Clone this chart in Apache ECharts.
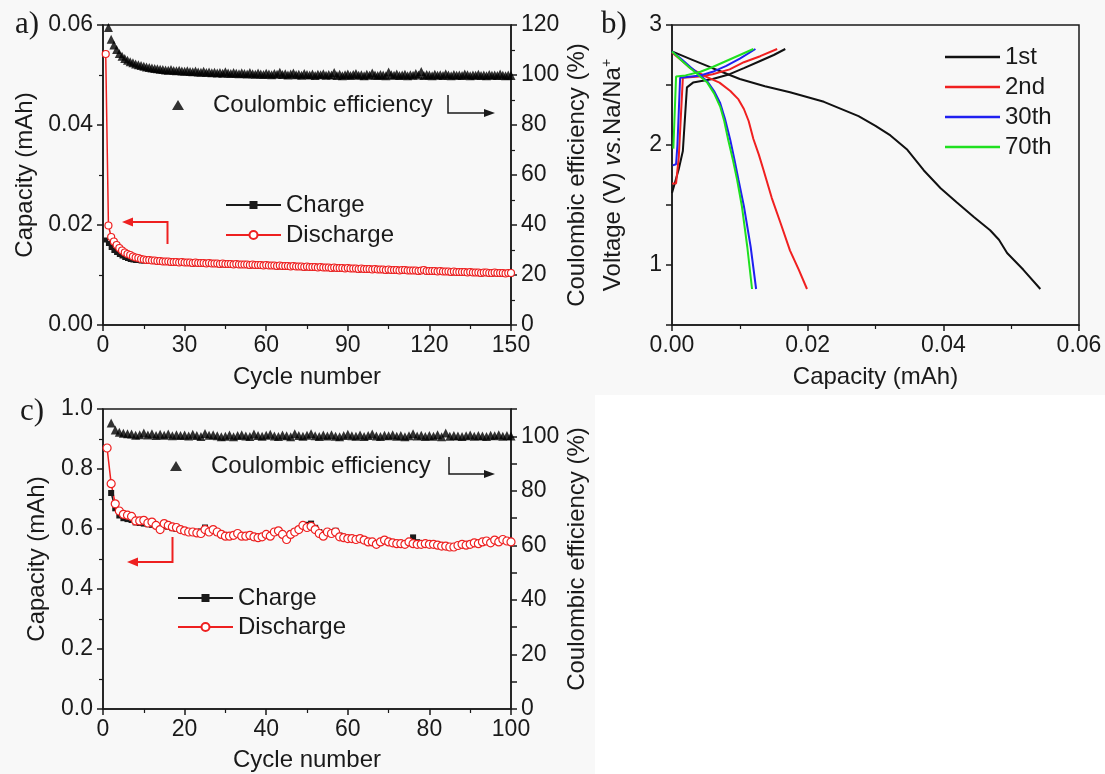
<!DOCTYPE html>
<html>
<head>
<meta charset="utf-8">
<script src="https://cdn.jsdelivr.net/npm/echarts/dist/echarts.min.js"></script>
<style>
html, body { margin: 0; padding: 0; background: #fff; }
#chart { width: 1105px; height: 774px; }
</style>
</head>
<body>
<div id="chart"></div>
<script>
// a) 150 cycles, capacity in mAh, CE in %
const chargeA = [
  0.0170, 0.0163, 0.0155, 0.0149, 0.0145, 0.0141, 0.0138, 0.0135, 0.0133, 0.0131,
  0.0130, 0.0129, 0.0129, 0.0128, 0.0128, 0.0128, 0.0127, 0.0127, 0.0127, 0.0126,
  0.0126, 0.0125, 0.0125, 0.0125, 0.0124, 0.0124, 0.0124, 0.0123, 0.0124, 0.0123,
  0.0123, 0.0123, 0.0122, 0.0123, 0.0122, 0.0122, 0.0122, 0.0121, 0.0122, 0.0121,
  0.0121, 0.0121, 0.0120, 0.0121, 0.0120, 0.0120, 0.0120, 0.0119, 0.0120, 0.0119,
  0.0119, 0.0119, 0.0119, 0.0118, 0.0119, 0.0118, 0.0118, 0.0118, 0.0117, 0.0118,
  0.0117, 0.0117, 0.0117, 0.0116, 0.0117, 0.0116, 0.0116, 0.0116, 0.0115, 0.0116,
  0.0115, 0.0115, 0.0115, 0.0114, 0.0115, 0.0114, 0.0114, 0.0114, 0.0113, 0.0114,
  0.0113, 0.0113, 0.0113, 0.0112, 0.0113, 0.0112, 0.0112, 0.0112, 0.0111, 0.0112,
  0.0111, 0.0111, 0.0111, 0.0110, 0.0111, 0.0110, 0.0110, 0.0110, 0.0109, 0.0110,
  0.0109, 0.0109, 0.0109, 0.0108, 0.0109, 0.0108, 0.0108, 0.0108, 0.0107, 0.0108,
  0.0108, 0.0107, 0.0107, 0.0107, 0.0107, 0.0106, 0.0107, 0.0108, 0.0106, 0.0106,
  0.0106, 0.0106, 0.0105, 0.0106, 0.0105, 0.0105, 0.0105, 0.0104, 0.0105, 0.0104,
  0.0104, 0.0104, 0.0104, 0.0103, 0.0104, 0.0103, 0.0103, 0.0103, 0.0102, 0.0103,
  0.0103, 0.0102, 0.0102, 0.0103, 0.0102, 0.0102, 0.0102, 0.0101, 0.0102, 0.0102
]
const dischargeA = [
  0.0542, 0.0199, 0.0176, 0.0167, 0.0160, 0.0154, 0.0149, 0.0145, 0.0142, 0.0140,
  0.0137, 0.0135, 0.0134, 0.0132, 0.0131, 0.0130, 0.0130, 0.0129, 0.0129, 0.0128,
  0.0128, 0.0127, 0.0127, 0.0127, 0.0126, 0.0126, 0.0126, 0.0125, 0.0126, 0.0125,
  0.0125, 0.0125, 0.0124, 0.0125, 0.0124, 0.0124, 0.0124, 0.0123, 0.0124, 0.0123,
  0.0123, 0.0123, 0.0122, 0.0123, 0.0122, 0.0122, 0.0122, 0.0121, 0.0122, 0.0121,
  0.0121, 0.0121, 0.0121, 0.0120, 0.0121, 0.0120, 0.0120, 0.0120, 0.0119, 0.0120,
  0.0119, 0.0119, 0.0119, 0.0118, 0.0119, 0.0118, 0.0118, 0.0118, 0.0117, 0.0118,
  0.0117, 0.0117, 0.0117, 0.0116, 0.0117, 0.0116, 0.0116, 0.0116, 0.0115, 0.0116,
  0.0115, 0.0115, 0.0115, 0.0114, 0.0115, 0.0114, 0.0114, 0.0114, 0.0113, 0.0114,
  0.0113, 0.0113, 0.0113, 0.0112, 0.0113, 0.0112, 0.0112, 0.0112, 0.0111, 0.0112,
  0.0111, 0.0111, 0.0111, 0.0110, 0.0111, 0.0110, 0.0110, 0.0110, 0.0109, 0.0110,
  0.0110, 0.0109, 0.0109, 0.0109, 0.0109, 0.0108, 0.0109, 0.0110, 0.0108, 0.0108,
  0.0108, 0.0108, 0.0107, 0.0108, 0.0107, 0.0107, 0.0107, 0.0106, 0.0107, 0.0106,
  0.0106, 0.0106, 0.0106, 0.0105, 0.0106, 0.0105, 0.0105, 0.0105, 0.0104, 0.0105,
  0.0105, 0.0104, 0.0104, 0.0105, 0.0104, 0.0104, 0.0104, 0.0103, 0.0104, 0.0104
]
// CE starts at cycle 2
const ceA = [
  119.0, 114.3, 112.0, 110.2, 108.6, 107.5, 106.6, 105.9, 105.3,
  104.9, 104.4, 104.1, 103.8, 103.5, 103.2, 103.0, 102.8, 102.6, 102.5,
  102.3, 102.2, 102.0, 101.9, 102.2, 101.8, 101.7, 101.9, 101.6, 101.5,
  101.7, 101.4, 101.3, 101.6, 101.2, 101.1, 101.5, 101.0, 101.2, 100.9,
  101.1, 100.8, 101.0, 100.7, 101.3, 100.8, 100.6, 101.0, 100.7, 100.5,
  100.9, 100.6, 100.4, 101.0, 100.5, 100.3, 100.8, 100.4, 100.2, 100.7,
  100.4, 100.1, 100.6, 100.3, 101.1, 100.2, 100.5, 100.0, 100.4, 100.8,
  100.1, 100.3, 99.9, 100.6, 100.2, 100.0, 100.4, 99.8, 100.3, 100.1,
  100.5, 99.9, 100.2, 100.0, 101.0, 99.8, 100.3, 99.7, 100.1, 100.4,
  99.8, 100.2, 100.6, 99.9, 100.1, 99.7, 100.3, 99.9, 100.8, 100.0,
  99.8, 100.2, 100.0, 99.7, 101.2, 100.1, 99.9, 100.4, 99.8, 100.0,
  100.3, 99.7, 100.1, 99.9, 100.6, 100.0, 101.4, 99.8, 100.2, 100.0,
  99.7, 100.3, 99.9, 100.1, 99.8, 100.5, 100.0, 99.7, 100.2, 99.9,
  100.0, 99.8, 100.4, 100.1, 99.7, 100.0, 99.9, 100.3, 99.8, 100.0,
  99.7, 100.2, 99.9, 100.0, 99.8, 100.4, 99.9, 99.7, 100.0, 99.8
]

// b) voltage profiles [capacity mAh, voltage V]
const charge1st = [[0, 1.60], [0.0004, 1.68], [0.0010, 1.80], [0.0016, 1.95], [0.0022, 2.48], [0.0031, 2.52], [0.0060, 2.55], [0.0085, 2.59], [0.0106, 2.64], [0.0130, 2.70], [0.0150, 2.75], [0.0167, 2.80]]
const discharge1st = [[0, 2.78], [0.0030, 2.71], [0.0060, 2.64], [0.0100, 2.55], [0.0137, 2.49], [0.0174, 2.44], [0.0224, 2.36], [0.0275, 2.24], [0.0300, 2.16], [0.0322, 2.08], [0.0347, 1.96], [0.0371, 1.79], [0.0396, 1.64], [0.0420, 1.52], [0.0445, 1.40], [0.0469, 1.29], [0.0482, 1.21], [0.0494, 1.10], [0.0518, 0.96], [0.0543, 0.80]]
const charge2nd = [[0, 1.68], [0.0006, 1.68], [0.0010, 1.90], [0.0016, 2.56], [0.0040, 2.57], [0.0060, 2.59], [0.0085, 2.63], [0.0106, 2.69], [0.0130, 2.74], [0.0155, 2.80]]
const discharge2nd = [[0, 2.77], [0.0015, 2.70], [0.0027, 2.64], [0.0050, 2.57], [0.0070, 2.52], [0.0086, 2.45], [0.0098, 2.38], [0.0106, 2.30], [0.0113, 2.20], [0.0120, 2.05], [0.0128, 1.92], [0.0135, 1.79], [0.0147, 1.56], [0.0160, 1.35], [0.0174, 1.12], [0.0187, 0.96], [0.0199, 0.80]]
const charge30th = [[0.0001, 1.83], [0.0006, 1.84], [0.0008, 2.00], [0.0012, 2.56], [0.0042, 2.58], [0.0060, 2.61], [0.0080, 2.66], [0.0100, 2.72], [0.0123, 2.80]]
const discharge30th = [[0, 2.78], [0.0015, 2.71], [0.0027, 2.65], [0.0040, 2.59], [0.0052, 2.53], [0.0062, 2.45], [0.0071, 2.35], [0.0078, 2.22], [0.0086, 2.04], [0.0092, 1.88], [0.0098, 1.71], [0.0106, 1.49], [0.0116, 1.15], [0.0124, 0.80]]
const charge70th = [[0.0002, 1.97], [0.0006, 2.57], [0.0020, 2.58], [0.0042, 2.61], [0.0060, 2.65], [0.0080, 2.70], [0.0100, 2.75], [0.0120, 2.80]]
const discharge70th = [[0, 2.78], [0.0015, 2.70], [0.0027, 2.64], [0.0040, 2.58], [0.0052, 2.52], [0.0062, 2.43], [0.0071, 2.32], [0.0077, 2.20], [0.0083, 2.04], [0.0090, 1.87], [0.0096, 1.71], [0.0103, 1.49], [0.0111, 1.15], [0.0118, 0.80]]

// c) 100 cycles, charge and CE start at cycle 2
const dischargeC = [
  0.870, 0.751, 0.684, 0.660, 0.649, 0.646, 0.642, 0.627, 0.627, 0.629,
  0.620, 0.623, 0.612, 0.598, 0.618, 0.612, 0.607, 0.605, 0.598, 0.594,
  0.590, 0.590, 0.587, 0.585, 0.598, 0.590, 0.598, 0.590, 0.582, 0.576,
  0.576, 0.579, 0.585, 0.576, 0.576, 0.579, 0.574, 0.571, 0.574, 0.582,
  0.576, 0.590, 0.594, 0.582, 0.565, 0.582, 0.590, 0.598, 0.612, 0.605,
  0.609, 0.598, 0.585, 0.576, 0.590, 0.585, 0.590, 0.574, 0.571, 0.568,
  0.568, 0.565, 0.568, 0.563, 0.557, 0.557, 0.549, 0.557, 0.563, 0.557,
  0.554, 0.551, 0.551, 0.549, 0.557, 0.551, 0.549, 0.549, 0.551, 0.549,
  0.549, 0.546, 0.543, 0.543, 0.540, 0.540, 0.545, 0.549, 0.546, 0.549,
  0.554, 0.551, 0.557, 0.560, 0.554, 0.563, 0.557, 0.565, 0.560, 0.557
]
const chargeC = [
  0.720, 0.669, 0.645, 0.636, 0.633, 0.630, 0.622, 0.620, 0.618,
  0.616, 0.614, 0.610, 0.605, 0.610, 0.607, 0.603, 0.600, 0.597, 0.594,
  0.591, 0.590, 0.588, 0.592, 0.605, 0.592, 0.594, 0.588, 0.584, 0.580,
  0.578, 0.580, 0.582, 0.578, 0.577, 0.576, 0.572, 0.574, 0.576, 0.580,
  0.580, 0.588, 0.590, 0.582, 0.572, 0.584, 0.592, 0.600, 0.610, 0.614,
  0.618, 0.604, 0.590, 0.582, 0.588, 0.590, 0.594, 0.578, 0.572, 0.570,
  0.568, 0.566, 0.566, 0.563, 0.560, 0.557, 0.553, 0.556, 0.560, 0.558,
  0.555, 0.553, 0.552, 0.551, 0.555, 0.572, 0.556, 0.552, 0.551, 0.550,
  0.549, 0.548, 0.545, 0.540, 0.538, 0.540, 0.543, 0.547, 0.548, 0.550,
  0.553, 0.553, 0.556, 0.560, 0.556, 0.562, 0.558, 0.563, 0.560, 0.557
]
const ceC = [
  104.9, 102.3, 101.5, 101.1, 100.9, 100.8, 100.4, 100.6, 101.2,
  100.5, 100.9, 100.3, 100.7, 100.4, 100.8, 100.2, 100.6, 100.3, 100.5,
  100.1, 100.7, 100.3, 99.9, 101.0, 100.4, 100.6, 100.2, 99.8, 100.0,
  100.5, 99.8, 100.3, 100.6, 100.1, 99.9, 100.8, 100.3, 100.0, 100.4,
  100.7, 100.1, 99.9, 100.5, 100.2, 99.8, 100.9, 100.3, 100.0, 100.4,
  100.9, 100.2, 99.9, 100.5, 100.1, 100.6, 100.0, 99.8, 100.3, 100.7,
  100.2, 100.0, 100.5, 99.9, 100.3, 100.8, 100.1, 99.9, 100.4, 100.2,
  100.6, 100.0, 100.3, 99.8, 100.2, 100.9, 100.1, 100.4, 99.9, 100.3,
  100.0, 100.6, 99.8, 101.2, 100.0, 100.3, 100.1, 99.9, 100.2, 100.5,
  100.0, 100.3, 100.1, 99.9, 100.4, 100.2, 100.6, 100.0, 100.3, 100.1
]

const font = 'Liberation Sans'
const ink = '#1a1a1a'
const red = '#ee2020'

function withCycles(values, first) {
  return values.map((v, i) => [first + i, v])
}

function axisStyle(extra) {
  return Object.assign({
    type: 'value',
    splitLine: { show: false },
    axisLine: { show: true, onZero: false, lineStyle: { color: ink, width: 1.5 } },
    axisTick: { show: true, inside: false, length: 6, lineStyle: { color: ink, width: 1.5 } },
    minorTick: { show: true, splitNumber: 2, length: 4, lineStyle: { color: ink, width: 1.2 } },
    axisLabel: { color: ink, fontSize: 23, fontFamily: font, margin: 9 },
    nameLocation: 'middle',
    nameTextStyle: { color: ink, fontSize: 24, fontFamily: font }
  }, extra)
}

function legendStyle(extra) {
  return Object.assign({
    orient: 'vertical',
    itemWidth: 55,
    itemHeight: 10,
    itemGap: 6,
    padding: 0,
    textStyle: { color: ink, fontSize: 24, fontFamily: font }
  }, extra)
}

const chartEl = document.getElementById('chart')
const chart = echarts.init(chartEl, null, { renderer: 'canvas' })

const gridBox = { show: true, borderColor: ink, borderWidth: 1.5, backgroundColor: 'transparent' }

const profileSeries = []
;[
  ['1st', '#111111', charge1st, discharge1st],
  ['2nd', '#f02020', charge2nd, discharge2nd],
  ['30th', '#2020f0', charge30th, discharge30th],
  ['70th', '#20e020', charge70th, discharge70th]
].forEach(([name, color, ch, dis]) => {
  ;[ch, dis].forEach(d => {
    profileSeries.push({
      name: name,
      type: 'line',
      xAxisIndex: 1,
      yAxisIndex: 2,
      symbol: 'none',
      lineStyle: { color: color, width: 2 },
      itemStyle: { color: color },
      data: d
    })
  })
})

// triangle legend: small icon, text pushed to the right
const ceLegendText = { color: ink, fontSize: 24, fontFamily: font, padding: [0, 0, 0, 24] }

const option = {
  animation: false,
  backgroundColor: '#ffffff',
  grid: [
    Object.assign({ left: 103, top: 25, width: 408, height: 300 }, gridBox),
    Object.assign({ left: 672, top: 25, width: 407, height: 300 }, gridBox),
    Object.assign({ left: 103, top: 409, width: 408, height: 300 }, gridBox)
  ],
  xAxis: [
    axisStyle({ gridIndex: 0, min: 0, max: 150, interval: 30, name: 'Cycle number', nameGap: 40 }),
    axisStyle({
      gridIndex: 1, min: 0, max: 0.06, interval: 0.02, name: 'Capacity (mAh)', nameGap: 40,
      axisLabel: { color: ink, fontSize: 23, fontFamily: font, margin: 9, formatter: v => v.toFixed(2) }
    }),
    axisStyle({ gridIndex: 2, min: 0, max: 100, interval: 20, name: 'Cycle number', nameGap: 39 })
  ],
  yAxis: [
    axisStyle({
      gridIndex: 0, min: 0, max: 0.06, interval: 0.02, name: 'Capacity (mAh)', nameGap: 66,
      axisLabel: { color: ink, fontSize: 23, fontFamily: font, margin: 10, formatter: v => v.toFixed(2) }
    }),
    axisStyle({
      gridIndex: 0, position: 'right', min: 0, max: 120, interval: 20,
      name: 'Coulombic efficiency (%)', nameGap: 54, nameRotate: 90,
      axisLabel: { color: ink, fontSize: 23, fontFamily: font, margin: 10 }
    }),
    axisStyle({
      gridIndex: 1, min: 0.5, max: 3, interval: 0.5, nameGap: 46,
      minorTick: { show: false },
      name: '{n|Voltage (V) }{i|vs.}{n|Na/Na}{s|+}',
      nameTextStyle: {
        color: ink, fontSize: 24, fontFamily: font,
        rich: {
          n: { color: ink, fontSize: 24, fontFamily: font },
          i: { color: ink, fontSize: 24, fontFamily: font, fontStyle: 'italic' },
          s: { color: ink, fontSize: 14, fontFamily: font, verticalAlign: 'top', padding: [0, 0, 12, 0] }
        }
      },
      axisLabel: {
        color: ink, fontSize: 23, fontFamily: font, margin: 10,
        formatter: v => (Math.abs(v - Math.round(v)) < 1e-6 ? String(Math.round(v)) : '')
      }
    }),
    axisStyle({
      gridIndex: 2, min: 0, max: 1, interval: 0.2, name: 'Capacity (mAh)', nameGap: 54,
      axisLabel: { color: ink, fontSize: 23, fontFamily: font, margin: 10, formatter: v => v.toFixed(1) }
    }),
    axisStyle({
      gridIndex: 2, position: 'right', min: 0, max: 110, interval: 10,
      name: 'Coulombic efficiency (%)', nameGap: 54, nameRotate: 90,
      minorTick: { show: false },
      axisLabel: {
        color: ink, fontSize: 23, fontFamily: font, margin: 10,
        formatter: v => (v % 20 === 0 ? String(v) : '')
      }
    })
  ],
  legend: [
    legendStyle({ left: 225, top: 193, data: ['Charge', 'Discharge'] }),
    legendStyle({ left: 172, top: 93, itemWidth: 12, itemHeight: 10, icon: 'triangle', textStyle: ceLegendText, data: ['Coulombic efficiency'] }),
    legendStyle({ left: 945, top: 45, itemHeight: 2.5, icon: 'rect', data: ['1st', '2nd', '30th', '70th'] }),
    legendStyle({ left: 177, top: 586, itemGap: 5, data: ['Charge', 'Discharge'] }),
    legendStyle({ left: 170, top: 454, itemWidth: 12, itemHeight: 10, icon: 'triangle', textStyle: ceLegendText, data: ['Coulombic efficiency'] })
  ],
  graphic: {
    elements: [
      { type: 'rect', z: -10, silent: true, shape: { x: 0, y: 0, width: 1105, height: 395 }, style: { fill: '#f8f8f8' } },
      { type: 'rect', z: -10, silent: true, shape: { x: 0, y: 395, width: 595, height: 379 }, style: { fill: '#f8f8f8' } },
      { type: 'text', left: 15, top: 9, style: { text: 'a)', fontSize: 31, fontFamily: 'Liberation Serif', fill: ink } },
      { type: 'text', left: 601, top: 9, style: { text: 'b)', fontSize: 31, fontFamily: 'Liberation Serif', fill: ink } },
      { type: 'text', left: 20, top: 396, style: { text: 'c)', fontSize: 31, fontFamily: 'Liberation Serif', fill: ink } },
      // arrows pointing to the axis each group belongs to
      { type: 'polyline', shape: { points: [[448, 95], [448, 113], [487, 113]] }, style: { stroke: ink, lineWidth: 1.5, fill: null } },
      { type: 'polygon', shape: { points: [[484, 109], [495, 113], [484, 117]] }, style: { fill: ink } },
      { type: 'polyline', shape: { points: [[167.5, 244], [167.5, 222], [131, 222]] }, style: { stroke: red, lineWidth: 2, fill: null } },
      { type: 'polygon', shape: { points: [[133, 217.5], [122, 222], [133, 226.5]] }, style: { fill: red } },
      { type: 'polyline', shape: { points: [[449, 457], [449, 474], [487, 474]] }, style: { stroke: ink, lineWidth: 1.5, fill: null } },
      { type: 'polygon', shape: { points: [[484, 470], [495, 474], [484, 478]] }, style: { fill: ink } },
      { type: 'polyline', shape: { points: [[172.5, 537], [172.5, 562], [136, 562]] }, style: { stroke: red, lineWidth: 2, fill: null } },
      { type: 'polygon', shape: { points: [[138, 557.5], [127, 562], [138, 566.5]] }, style: { fill: red } }
    ]
  },
  series: [
    {
      name: 'Charge', type: 'line', xAxisIndex: 0, yAxisIndex: 0,
      symbol: 'rect', symbolSize: 5,
      lineStyle: { color: ink, width: 1.5 }, itemStyle: { color: ink },
      data: withCycles(chargeA, 1)
    },
    {
      name: 'Discharge', type: 'line', xAxisIndex: 0, yAxisIndex: 0,
      symbol: 'circle', symbolSize: 7,
      lineStyle: { color: red, width: 1.5 }, itemStyle: { color: '#ffffff', borderColor: red, borderWidth: 1.2 },
      data: withCycles(dischargeA, 1)
    },
    {
      name: 'Coulombic efficiency', type: 'scatter', xAxisIndex: 0, yAxisIndex: 1,
      symbol: 'triangle', symbolSize: 9, itemStyle: { color: '#000000' },
      data: withCycles(ceA, 2)
    },
    ...profileSeries,
    {
      name: 'Charge', type: 'line', xAxisIndex: 2, yAxisIndex: 3,
      symbol: 'rect', symbolSize: 6,
      lineStyle: { color: ink, width: 1.5 }, itemStyle: { color: ink },
      data: withCycles(chargeC, 2)
    },
    {
      name: 'Discharge', type: 'line', xAxisIndex: 2, yAxisIndex: 3,
      symbol: 'circle', symbolSize: 8,
      lineStyle: { color: red, width: 1.5 }, itemStyle: { color: '#ffffff', borderColor: red, borderWidth: 1.2 },
      data: withCycles(dischargeC, 1)
    },
    {
      name: 'Coulombic efficiency', type: 'scatter', xAxisIndex: 2, yAxisIndex: 4,
      symbol: 'triangle', symbolSize: 9, itemStyle: { color: '#000000' },
      data: withCycles(ceC, 2)
    }
  ]
}

chart.setOption(option)
</script>
</body>
</html>
